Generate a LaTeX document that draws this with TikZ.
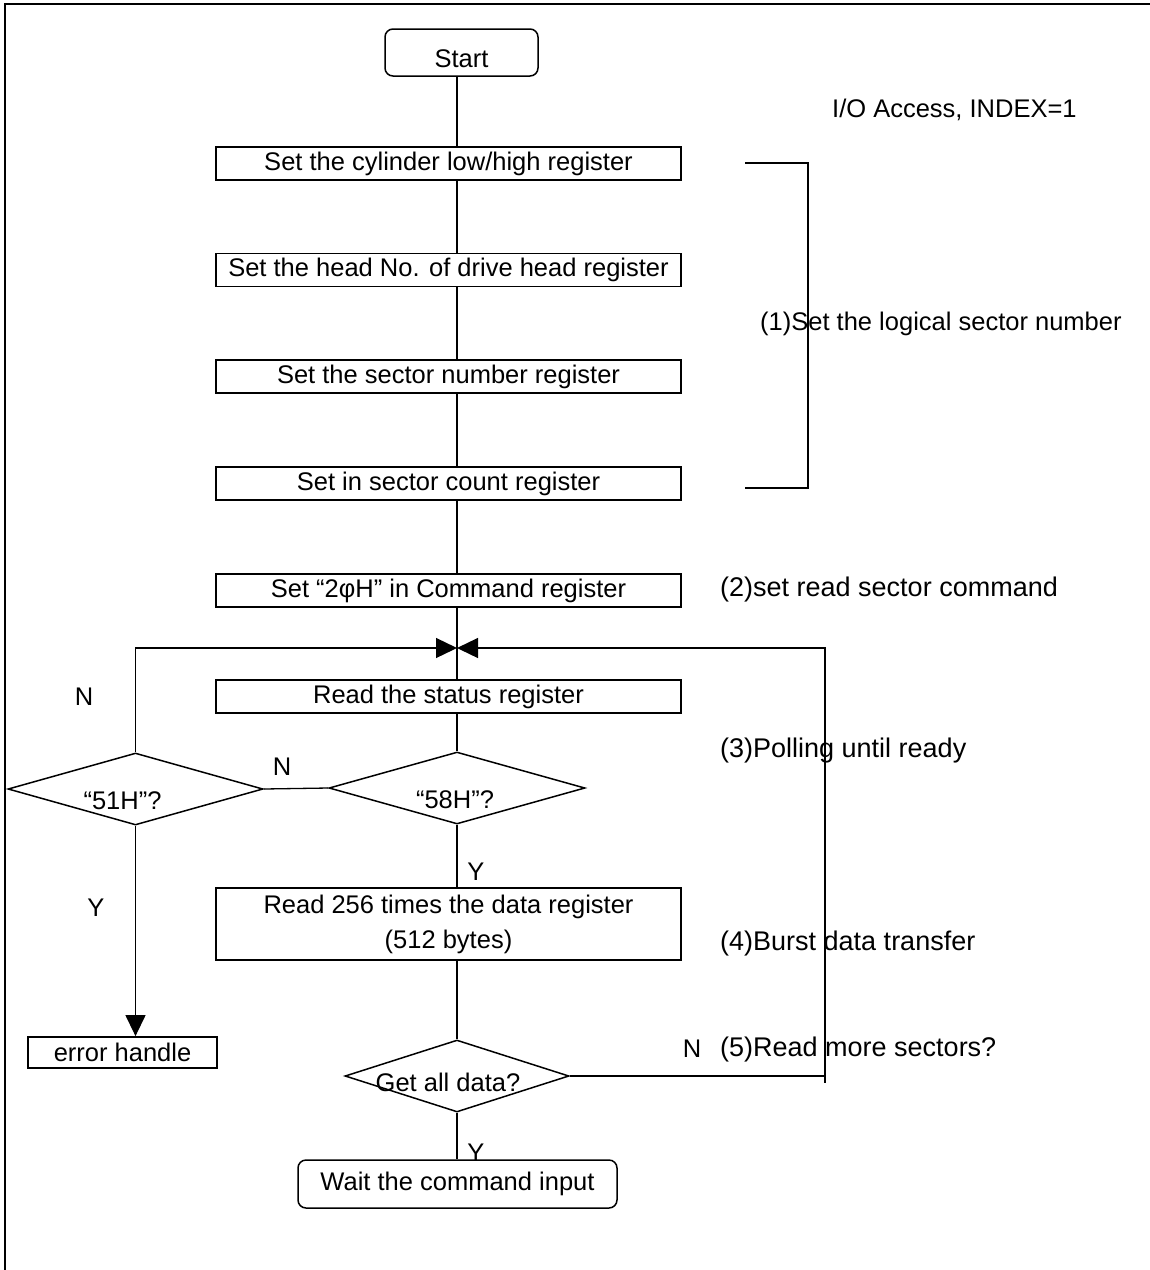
\documentclass[tikz,border=0pt]{standalone}
\usepackage{fontspec}
\setmainfont{Liberation Sans}
\usetikzlibrary{arrows.meta,shapes.geometric}
\begin{document}
\begin{tikzpicture}[x=1pt,y=-1pt,
  every node/.style={font=\fontsize{25.5}{35}\selectfont},
  proc/.style={draw,line width=1.8pt,minimum width=465pt,minimum height=33pt,inner sep=0pt},
  term/.style={draw,line width=1.5pt,rounded corners=8pt,inner sep=0pt},
  dia/.style={draw,diamond,line width=1.5pt,inner sep=0pt},
  conn/.style={line width=1.3pt},
  arr/.style={line width=1.3pt,-{Triangle[length=21pt,width=20pt]}},
  note/.style={anchor=west,inner sep=0pt},
  bignote/.style={note,font=\fontsize{27}{32}\selectfont},
  yn/.style={inner sep=0pt}]
\useasboundingbox (0,0) rectangle (1150,1270);
\draw[line width=2.5pt] (5,1270) -- (5,4) -- (1150,4);

% nodes
\node[term,minimum width=153pt,minimum height=47pt,text depth=0pt,text height=30pt] (start) at (461.5,52.5) {Start};
\node[proc] (b1) at (448.5,163.5) {Set the cylinder low/high register};
\node[proc] (b2) at (448.5,270) {Set the head No. of drive head register};
\node[proc] (b3) at (448.5,376.5) {Set the sector number register};
\node[proc] (b4) at (448.5,483.5) {Set in sector count register};
\node[proc] (b5) at (448.5,590.5) {Set “2φH” in Command register};
\node[proc] (b6) at (448.5,696.5) {Read the status register};
\node[dia,minimum width=256pt,minimum height=72pt,
  label={[xshift=-2pt,yshift=-12pt]center:“58H”?}] (d58) at (457,788) {};
\node[dia,minimum width=255pt,minimum height=72pt,
  label={[xshift=-13pt,yshift=-12pt]center:“51H”?}] (d51) at (135.5,789) {};
\node[proc,minimum height=72pt,align=center] (b7) at (448.5,924) {Read 256 times the data register\\(512 bytes)};
\node[proc,minimum width=189pt,minimum height=31pt] (err) at (122.5,1052.5) {error handle};
\node[dia,minimum width=224pt,minimum height=72pt,
  label={[xshift=-9pt,yshift=-6pt]center:Get all data?}] (dget) at (457,1076) {};
\node[term,minimum width=319pt,minimum height=48pt] (wait) at (457.5,1184) {Wait the command input};

% connectors
\coordinate (mx) at (457,0);
\coordinate (m) at (457,648);
\coordinate (rc) at (825,648);
\draw[conn] (start.south -| mx) -- (b1.north -| mx);
\draw[conn] (b1.south -| mx) -- (b2.north -| mx);
\draw[conn] (b2.south -| mx) -- (b3.north -| mx);
\draw[conn] (b3.south -| mx) -- (b4.north -| mx);
\draw[conn] (b4.south -| mx) -- (b5.north -| mx);
\draw[conn] (b5.south -| mx) -- (b6.north -| mx);
\draw[conn] (b6.south -| mx) -- (d58.north);
\draw[conn] (d58.west) -- (d51.east);
\draw[arr] (d51.north) |- (m);
\draw[arr] (d51.south) -- (d51.south |- err.north);
\draw[conn] (d58.south) -- (d58.south |- b7.north);
\draw[conn] (b7.south -| mx) -- (dget.north);
\draw[conn] (dget.south) -- (dget.south |- wait.north);
\draw[arr] (dget.east) -| (rc) -- (m);
\draw[conn] (rc |- dget.east) -- ++(0,7);

% bracket
\draw[conn] (745,163) -- (808,163) -- (808,488) -- (745,488);

% notes
\node[note] (io) at (832,110) {I/O Access, INDEX=1};
\node[note] (n1) at (760,324) {(1)Set the logical sector number};
\node[bignote] (n2) at (720,590) {(2)set read sector command};
\node[bignote] (n3) at (720,751) {(3)Polling until ready};
\node[bignote] (n4) at (720,943) {(4)Burst data transfer};
\node[bignote] (n5) at (720,1049) {(5)Read more sectors?};

% Y / N labels
\node[yn] (na) at (84,697) {N};
\node[yn] (nb) at (282,767) {N};
\node[yn] (nc) at (692,1049) {N};
\node[yn] (ya) at (96,908) {Y};
\node[yn] (yb) at (476,872) {Y};
\node[yn] (yc) at (476,1153) {Y};
\end{tikzpicture}
\end{document}
